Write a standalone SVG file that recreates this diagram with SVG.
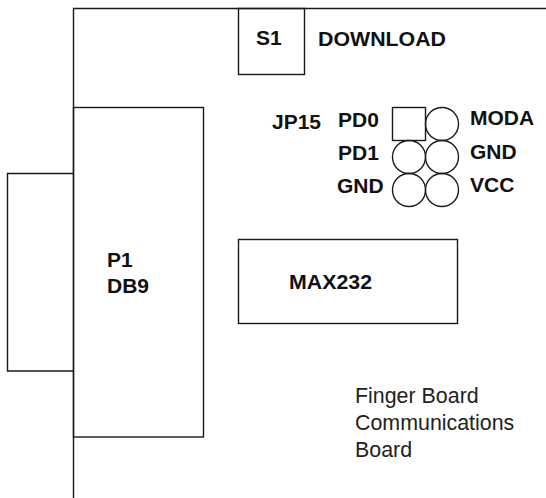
<svg xmlns="http://www.w3.org/2000/svg" width="546" height="498" viewBox="0 0 546 498">
<style>
.s{fill:none;stroke:#1a1a1a;stroke-width:1.4}
.b{font-family:"Liberation Sans",Arial,sans-serif;font-weight:bold;font-size:21px;fill:#111}
.r{font-family:"Liberation Sans",Arial,sans-serif;font-size:21.4px;fill:#222}
</style>
<rect width="546" height="498" fill="#fff"/>
<g id="board"><path class="s" d="M546 8.5H73.5V498"/></g>
<g id="shell"><path class="s" d="M73.5 173.5H7.5V371H73.5"/></g>
<g id="P1"><rect class="s" x="73.5" y="107.5" width="130" height="329.5"/>
<text class="b" x="107" y="267">P1</text><text class="b" x="107" y="293">DB9</text></g>
<g id="S1"><rect class="s" x="238.5" y="8.5" width="66" height="66"/><text class="b" x="256" y="45">S1</text></g>
<g id="download"><text class="b" x="318" y="46" textLength="128" lengthAdjust="spacingAndGlyphs">DOWNLOAD</text></g>
<g id="JP15">
<rect class="s" x="392.5" y="107.5" width="33" height="33"/>
<circle class="s" cx="442" cy="124" r="16.5"/>
<circle class="s" cx="409" cy="157" r="16.5"/>
<circle class="s" cx="442" cy="157" r="16.5"/>
<circle class="s" cx="409" cy="190" r="16.5"/>
<circle class="s" cx="442" cy="190" r="16.5"/>
<text class="b" x="272" y="129">JP15</text>
<text class="b" x="338" y="127">PD0</text>
<text class="b" x="338" y="160">PD1</text>
<text class="b" x="337" y="193">GND</text>
<text class="b" x="470" y="125">MODA</text>
<text class="b" x="470" y="159">GND</text>
<text class="b" x="470" y="192">VCC</text>
</g>
<g id="MAX232"><rect class="s" x="238.5" y="239.5" width="219" height="84"/><text class="b" x="289" y="289" textLength="83" lengthAdjust="spacingAndGlyphs">MAX232</text></g>
<g id="caption"><text class="r" x="355" y="403">Finger Board</text><text class="r" x="355" y="430">Communications</text><text class="r" x="355" y="457">Board</text></g>
</svg>
